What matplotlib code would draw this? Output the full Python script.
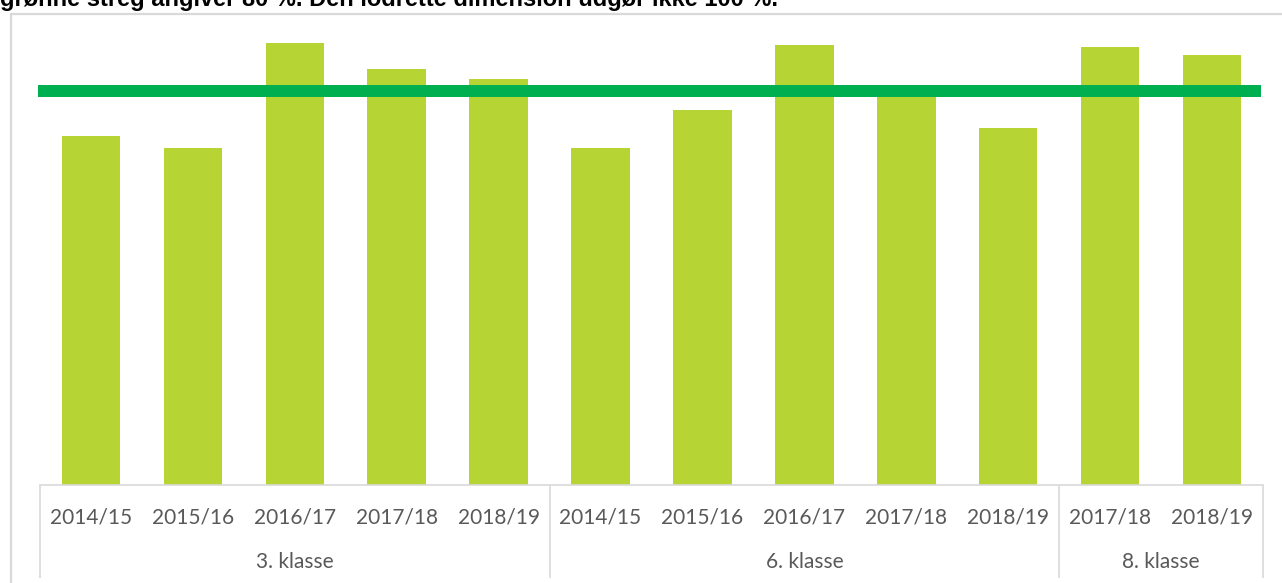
import matplotlib
matplotlib.use("Agg")
import matplotlib.pyplot as plt
from matplotlib.patches import Rectangle
from matplotlib.transforms import blended_transform_factory

# ---- data ----
groups = ["3. klasse", "6. klasse", "8. klasse"]
group_years = [
    ["2014/15", "2015/16", "2016/17", "2017/18", "2018/19"],
    ["2014/15", "2015/16", "2016/17", "2017/18", "2018/19"],
    ["2017/18", "2018/19"],
]
values_3 = [77.7, 77.1, 82.4, 81.1, 80.6]
values_6 = [77.1, 79.0, 82.3, 79.9, 78.1]
values_8 = [82.2, 81.8]
target = 80
title = "grønne streg angiver 80 %. Den lodrette dimension udgør ikke 100 %."

values = values_3 + values_6 + values_8
year_labels = [y for g in group_years for y in g]

BAR_COLOR = "#B6D433"
LINE_COLOR = "#00B050"
GRID_GRAY = "#D9D9D9"
TEXT_GRAY = "#595959"

W, H = 1282, 583
fig = plt.figure(figsize=(W / 100, H / 100), dpi=100)

# outer chart frame (cut by the image edges)
fig.add_artist(Rectangle((10.5, -20), 1400, 583 - 14 + 20, transform=None,
                         fill=False, edgecolor=GRID_GRAY, linewidth=1.6))

# title (partially cut at the top)
fig.text(0, 1 - 6.3 / H, title, fontsize=17, fontweight="bold",
         family="Liberation Sans", color="#000000", va="baseline", ha="left")

ax_left, ax_right, ax_bottom, ax_top = 40, 1263, 484.5, 20
ax = fig.add_axes([ax_left / W, (H - ax_bottom) / H,
                   (ax_right - ax_left) / W, (ax_bottom - ax_top) / H])

x = list(range(len(values)))
ax.bar(x, values, width=0.574, color=BAR_COLOR, zorder=2)
ax.axhline(target, xmin=-2 / 1223, xmax=1 - 2 / 1223, color=LINE_COLOR,
           linewidth=12 * 0.72, solid_capstyle="butt", zorder=3, clip_on=False)

ax.set_xlim(-0.5, len(values) - 0.5)
ax.set_ylim(60, 60 + (ax_bottom - ax_top) / 19.7)

for s in ["top", "left", "right"]:
    ax.spines[s].set_visible(False)
ax.spines["bottom"].set_color(GRID_GRAY)
ax.spines["bottom"].set_linewidth(1.2)
ax.set_yticks([])

# year labels
ax.set_xticks(x)
ax.set_xticklabels([])
ax.tick_params(axis="x", which="major", length=0)
trans = blended_transform_factory(ax.transData, ax.transAxes)
hpx = ax_bottom - ax_top
for xi, lab in zip(x, year_labels):
    ax.text(xi, -(517 - ax_bottom) / hpx, lab, transform=trans, ha="center",
            va="center", fontsize=15, family="Lato", color=TEXT_GRAY)

# group separators and group labels
bounds = [-0.5]
for g in group_years:
    bounds.append(bounds[-1] + len(g))
ax.set_xticks(bounds, minor=True)
ax.tick_params(axis="x", which="minor", length=(578 - ax_bottom) * 0.72,
               color=GRID_GRAY, width=1.2, direction="out")
for gi, gname in enumerate(groups):
    cx = (bounds[gi] + bounds[gi + 1]) / 2
    ax.text(cx, -(562 - ax_bottom) / hpx, gname, transform=trans, ha="center",
            va="center", fontsize=15, family="Lato", color=TEXT_GRAY)

fig.savefig("out.png", dpi=100)
